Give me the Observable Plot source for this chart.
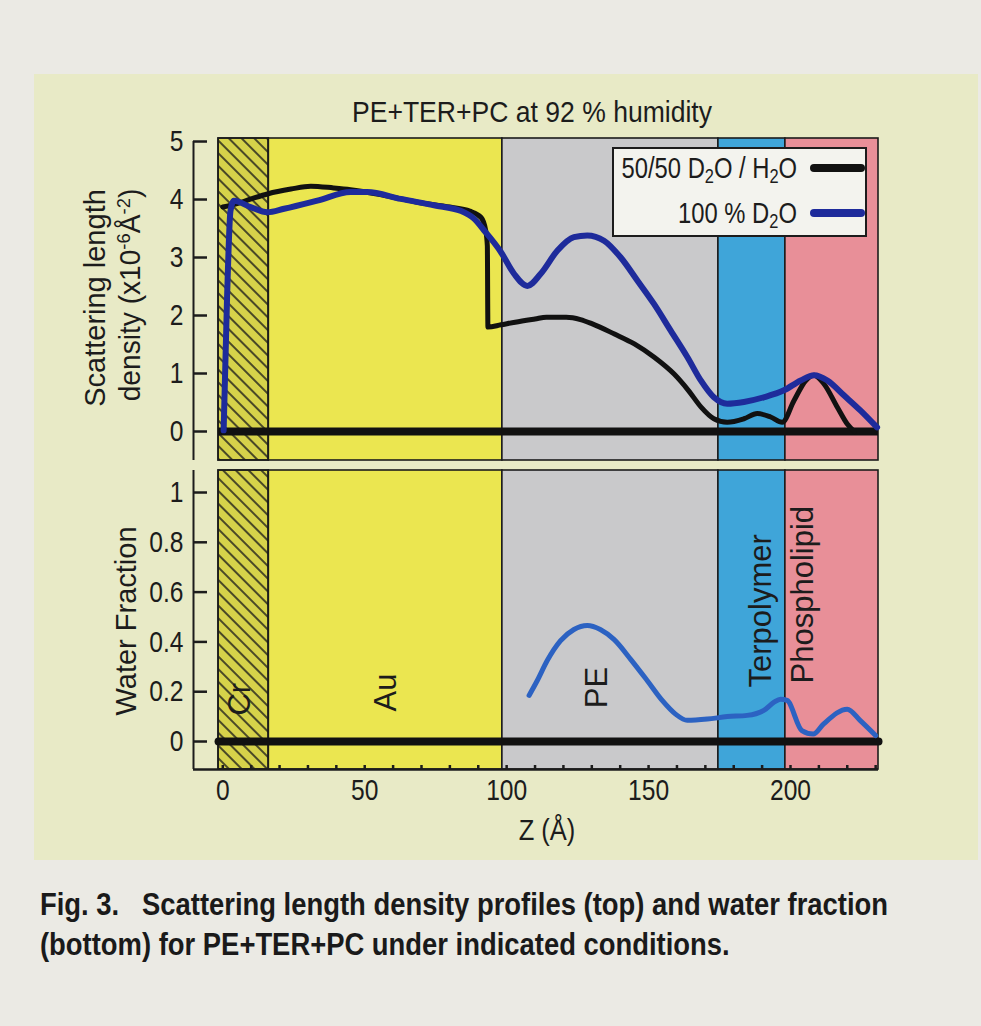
<!DOCTYPE html>
<html>
<head>
<meta charset="utf-8">
<script src="https://cdn.jsdelivr.net/npm/d3@7"></script>
<script src="https://cdn.jsdelivr.net/npm/@observablehq/plot@0.6"></script>
<style>
  html, body { margin: 0; padding: 0; background: #ebeae4; }
  #page { position: relative; width: 981px; height: 1026px; overflow: hidden;
          font-family: "Liberation Sans", Arial, Helvetica, sans-serif; color: #1c1c1c; }
  #panel { position: absolute; left: 34px; top: 74px; width: 944px; height: 786px; background: #e8eac6; }
  .abs { position: absolute; white-space: nowrap; line-height: 1; }
  .plot { position: absolute; left: 0; }
  .ctr { transform-origin: 50% 50%; }
  #legend { position: absolute; left: 612px; top: 147px; width: 251px; height: 86px;
            border: 2px solid #1c1c1c; background: #f3f3ee; }
  .lgtext { position: absolute; right: 68px; font-size: 29px; white-space: nowrap; line-height: 1;
            transform: translateY(-50%) scaleX(0.82); transform-origin: 100% 50%; }
  .lgtext sub { font-size: 20px; vertical-align: -5px; line-height: 0; }
  .sw { position: absolute; left: 196px; width: 55px; border-radius: 4px; }
  sup { font-size: 19px; vertical-align: 10px; line-height: 0; }
  #caption { position: absolute; left: 40px; top: 884px; font-size: 32px; font-weight: bold;
             line-height: 40px; white-space: nowrap; transform-origin: 0 0; color: #1a1a1a; }
</style>
</head>
<body>
<div id="page">
  <div id="panel"></div>
  <div id="topPlot" class="plot" style="top:0px"></div>
  <div id="botPlot" class="plot" style="top:465px"></div>

  <div class="abs ctr" id="title" style="left:532px; top:112px; font-size:30px;">PE+TER+PC at 92 % humidity</div>
  <div class="abs ctr" id="yt1" style="left:95px; top:298px; font-size:29px;">Scattering length</div>
  <div class="abs ctr" id="yt2" style="left:130px; top:295px; font-size:29px;">density (x10<sup>-6</sup>Å<sup>-2</sup>)</div>
  <div class="abs ctr" id="yt3" style="left:126px; top:621px; font-size:29px;">Water Fraction</div>
  <div class="abs ctr" id="xt" style="left:547px; top:830px; font-size:30px;">Z (Å)</div>

  <div id="legend">
    <div class="lgtext" style="top:19px;">50/50 D<sub>2</sub>O / H<sub>2</sub>O</div>
    <div class="sw" style="top:15px; height:8px; background:#111;"></div>
    <div class="lgtext" style="top:64px;">100 % D<sub>2</sub>O</div>
    <div class="sw" style="top:60px; height:8px; background:#1e2b9b;"></div>
  </div>

  <div id="caption">Fig. 3.&nbsp;&nbsp; Scattering length density profiles (top) and water fraction<br>(bottom) for PE+TER+PC under indicated conditions.</div>
</div>

<script>
// ---------- data ----------
const zTicks = [0, 50, 100, 150, 200];
const zMinorTicks = [0, 10, 20, 30, 40, 50, 60, 70, 80, 90, 100, 110, 120, 130, 140, 150, 160, 170, 180, 190, 200, 210, 220, 230];
const sldTicks = [0, 1, 2, 3, 4, 5];
const sldTickLabels = ["0", "1", "2", "3", "4", "5"];
const waterTicks = [0, 0.2, 0.4, 0.6, 0.8, 1];
const waterTickLabels = ["0", "0.2", "0.4", "0.6", "0.8", "1"];

const regionNames = ["Cr", "Au", "PE", "Terpolymer", "Phospholipid"];
const regionStart = [-1.5, 16.2, 98.5, 174.6, 198.2];
const regionEnd   = [16.2, 98.5, 174.6, 198.2, 231];

// region labels (bottom panel)
const centerLabels = ["Cr", "Au", "PE"];
const centerLabelZ = [6.2, 57.4, 132];
const centerLabelW = [0.17, 0.197, 0.217];
const startLabels = ["Terpolymer", "Phospholipid"];
const startLabelZ = [189.5, 204.3];
const startLabelW = [0.217, 0.233];

// SLD, 50/50 D2O/H2O
const z5050 = [0, 5, 10, 16, 24, 31, 39, 45, 57, 69, 80, 87, 91, 92.6, 93.2, 93.4, 98, 103, 110, 114, 121, 126, 130, 138, 145, 152, 159, 164, 168.5, 173, 177.7, 183.6, 188.3, 193, 197.1, 201.2, 205.4, 208.3, 211.8, 216.5, 220, 222.5];
const sld5050 = [3.87, 3.93, 4.01, 4.10, 4.18, 4.23, 4.20, 4.17, 4.07, 3.95, 3.87, 3.80, 3.69, 3.47, 3.2, 1.80, 1.84, 1.885, 1.94, 1.97, 1.97, 1.93, 1.86, 1.68, 1.51, 1.28, 0.99, 0.71, 0.42, 0.22, 0.16, 0.22, 0.31, 0.25, 0.16, 0.53, 0.88, 0.97, 0.82, 0.42, 0.13, 0];

// SLD, 100 % D2O
const z100 = [0.3, 1.5, 2.7, 3.9, 9.8, 15.7, 21.6, 33.3, 45, 50.9, 62.7, 74.4, 84, 88.5, 92, 97.9, 102.6, 107.3, 112, 117.9, 123.7, 128.4, 134.3, 140.2, 146.1, 151.9, 157.8, 163.7, 168.4, 173, 177.7, 183.6, 190.6, 197.7, 203.6, 208.3, 213, 218.9, 224.7, 230.5];
const sld100 = [0.02, 2.3, 3.8, 3.98, 3.87, 3.78, 3.84, 3.98, 4.13, 4.13, 4.01, 3.9, 3.8, 3.67, 3.47, 3.1, 2.72, 2.51, 2.72, 3.12, 3.35, 3.38, 3.29, 3.0, 2.6, 2.2, 1.74, 1.28, 0.88, 0.59, 0.48, 0.51, 0.59, 0.71, 0.88, 0.97, 0.88, 0.62, 0.36, 0.07];

// Water fraction, 100 % D2O
const zW100 = [107.9, 110.8, 114.3, 119, 123.7, 128.4, 133, 137.8, 143.7, 149.5, 154.8, 159.5, 163.6, 170.7, 177.7, 184.7, 190.6, 194.2, 196.5, 198.8, 204, 208, 211.6, 220, 224.6, 230];
const w100 = [0.185, 0.245, 0.325, 0.405, 0.45, 0.466, 0.45, 0.41, 0.33, 0.245, 0.165, 0.11, 0.085, 0.09, 0.10, 0.105, 0.125, 0.158, 0.17, 0.165, 0.044, 0.03, 0.07, 0.13, 0.084, 0.024];

// Water fraction, 50/50
const zW5050 = [-1.5, 231];
const w5050 = [0, 0];

// ---------- styling ----------
const regionColors = ["#d6d24a", "#ebe650", "#c9c9cb", "#3fa5d9", "#e88f98"];
const black = "#111111";
const navy = "#1e2b9b";
const blueLight = "#2c62c2";
const xDomain = [-10.32, 231];
const sldDomain = [-0.5, 5.052];
const wDomain = [-0.1124, 1.0884];
const W = 981, mL = 193, mR = 103;
const frameW = W - mL - mR;

const regions = regionNames.map((name, i) => ({name, start: regionStart[i], end: regionEnd[i]}));
const crRegion = regions.filter(d => d.name === "Cr");
const toRows = (zs, vs) => zs.map((z, i) => ({z, v: vs[i]}));

const font = "Liberation Sans, Arial, Helvetica, sans-serif";

function regionMarks(patternId) {
  return [
    Plot.rect(regions, {x1: "start", x2: "end", fill: "name", stroke: "#1c1c1c", strokeWidth: 1.6}),
    Plot.rect(crRegion, {x1: "start", x2: "end", fill: `url(#${patternId})`, stroke: "#1c1c1c", strokeWidth: 1.6})
  ];
}

function addPattern(svg, id) {
  const defs = d3.select(svg).insert("defs", ":first-child");
  const p = defs.append("pattern").attr("id", id).attr("patternUnits", "userSpaceOnUse")
    .attr("width", 9).attr("height", 9).attr("patternTransform", "rotate(-45)");
  p.append("line").attr("x1", 1).attr("y1", 0).attr("x2", 1).attr("y2", 9)
    .attr("stroke", "#1a1a1a").attr("stroke-width", 1.5);
}

// narrow the tick-label glyphs (the original uses a condensed face)
function condense(svg, selector, k) {
  svg.querySelectorAll(selector).forEach(t => {
    const tr = t.getAttribute("transform") || "";
    t.setAttribute("transform", `${tr} scale(${k},1)`);
  });
}

// ---------- top plot ----------
const topSvg = Plot.plot({
  width: W, height: 465,
  marginLeft: mL, marginRight: mR, marginTop: 138, marginBottom: 5,
  style: {background: "transparent", fontFamily: font, color: "#1c1c1c", overflow: "visible"},
  x: {domain: xDomain, axis: null},
  y: {domain: sldDomain, axis: null},
  color: {domain: regionNames, range: regionColors},
  marks: [
    ...regionMarks("hatchTop"),
    Plot.ruleY([0], {x1: regionStart[0], x2: regionEnd[regionEnd.length - 1], stroke: black, strokeWidth: 8}),
    Plot.line(toRows(z5050, sld5050), {x: "z", y: "v", stroke: black, strokeWidth: 5, curve: "monotone-x", strokeLinejoin: "round", strokeLinecap: "round"}),
    Plot.line(toRows(z100, sld100), {x: "z", y: "v", stroke: navy, strokeWidth: 6, curve: "monotone-x", strokeLinejoin: "round", strokeLinecap: "round"}),
    Plot.ruleX([xDomain[0]], {y1: sldDomain[0], y2: sldTicks[sldTicks.length - 1], stroke: "#1c1c1c", strokeWidth: 2}),
    Plot.tickY(sldTicks, {y: d => d, insetRight: frameW - 14, stroke: "#1c1c1c", strokeWidth: 2.5}),
    Plot.axisY(sldTicks, {tickSize: 0, tickPadding: 10, fontSize: 30, label: null, tickFormat: (d, i) => sldTickLabels[i]})
  ]
});
addPattern(topSvg, "hatchTop");
condense(topSvg, 'g[aria-label="y-axis tick label"] text', 0.82);
document.getElementById("topPlot").appendChild(topSvg);

// ---------- bottom plot ----------
const botSvg = Plot.plot({
  width: W, height: 360,
  marginLeft: mL, marginRight: mR, marginTop: 5, marginBottom: 56,
  style: {background: "transparent", fontFamily: font, color: "#1c1c1c", overflow: "visible"},
  x: {domain: xDomain, axis: null},
  y: {domain: wDomain, axis: null},
  color: {domain: regionNames, range: regionColors},
  marks: [
    ...regionMarks("hatchBot"),
    Plot.line(toRows(zW5050, w5050), {x: "z", y: "v", stroke: black, strokeWidth: 8}),
    Plot.line(toRows(zW100, w100), {x: "z", y: "v", stroke: blueLight, strokeWidth: 5, curve: "monotone-x", strokeLinejoin: "round", strokeLinecap: "round"}),
    Plot.text(centerLabels, {x: (d, i) => centerLabelZ[i], y: (d, i) => centerLabelW[i], text: d => d, rotate: -90, fontSize: 31, fill: "#1c1c1c"}),
    Plot.text(startLabels, {x: (d, i) => startLabelZ[i], y: (d, i) => startLabelW[i], text: d => d, rotate: -90, textAnchor: "start", fontSize: 31, fill: "#1c1c1c"}),
    Plot.ruleX([xDomain[0]], {stroke: "#1c1c1c", strokeWidth: 2}),
    Plot.ruleY([wDomain[0]], {stroke: "#1c1c1c", strokeWidth: 2.5}),
    Plot.tickY(waterTicks, {y: d => d, insetRight: frameW - 14, stroke: "#1c1c1c", strokeWidth: 2.5}),
    Plot.tickX(zMinorTicks, {x: d => d, insetTop: 299 - 4, stroke: "#1c1c1c", strokeWidth: 2.5}),
    Plot.axisY(waterTicks, {tickSize: 0, tickPadding: 10, fontSize: 30, label: null, tickFormat: (d, i) => waterTickLabels[i]}),
    Plot.axisX(zTicks, {tickSize: 0, tickPadding: 9, fontSize: 30, label: null})
  ]
});
addPattern(botSvg, "hatchBot");
condense(botSvg, 'g[aria-label="y-axis tick label"] text, g[aria-label="x-axis tick label"] text', 0.82);
document.getElementById("botPlot").appendChild(botSvg);

// ---------- HTML text fitting ----------
function centerScale(id, k, rot) {
  const el = document.getElementById(id);
  el.style.transform = `translate(-50%,-50%)${rot ? " rotate(-90deg)" : ""} scaleX(${k})`;
}
centerScale("title", 0.885, false);
centerScale("yt1", 1.0, true);
centerScale("yt2", 0.97, true);
centerScale("yt3", 1.0, true);
centerScale("xt", 0.85, false);

const cap = document.getElementById("caption");
const capFirstWidth = 848;
const range = document.createRange();
range.setStart(cap.firstChild, 0);
range.setEnd(cap.firstChild, cap.firstChild.length);
const w1 = range.getBoundingClientRect().width;
cap.style.transform = `scaleX(${capFirstWidth / w1})`;
</script>
</body>
</html>
